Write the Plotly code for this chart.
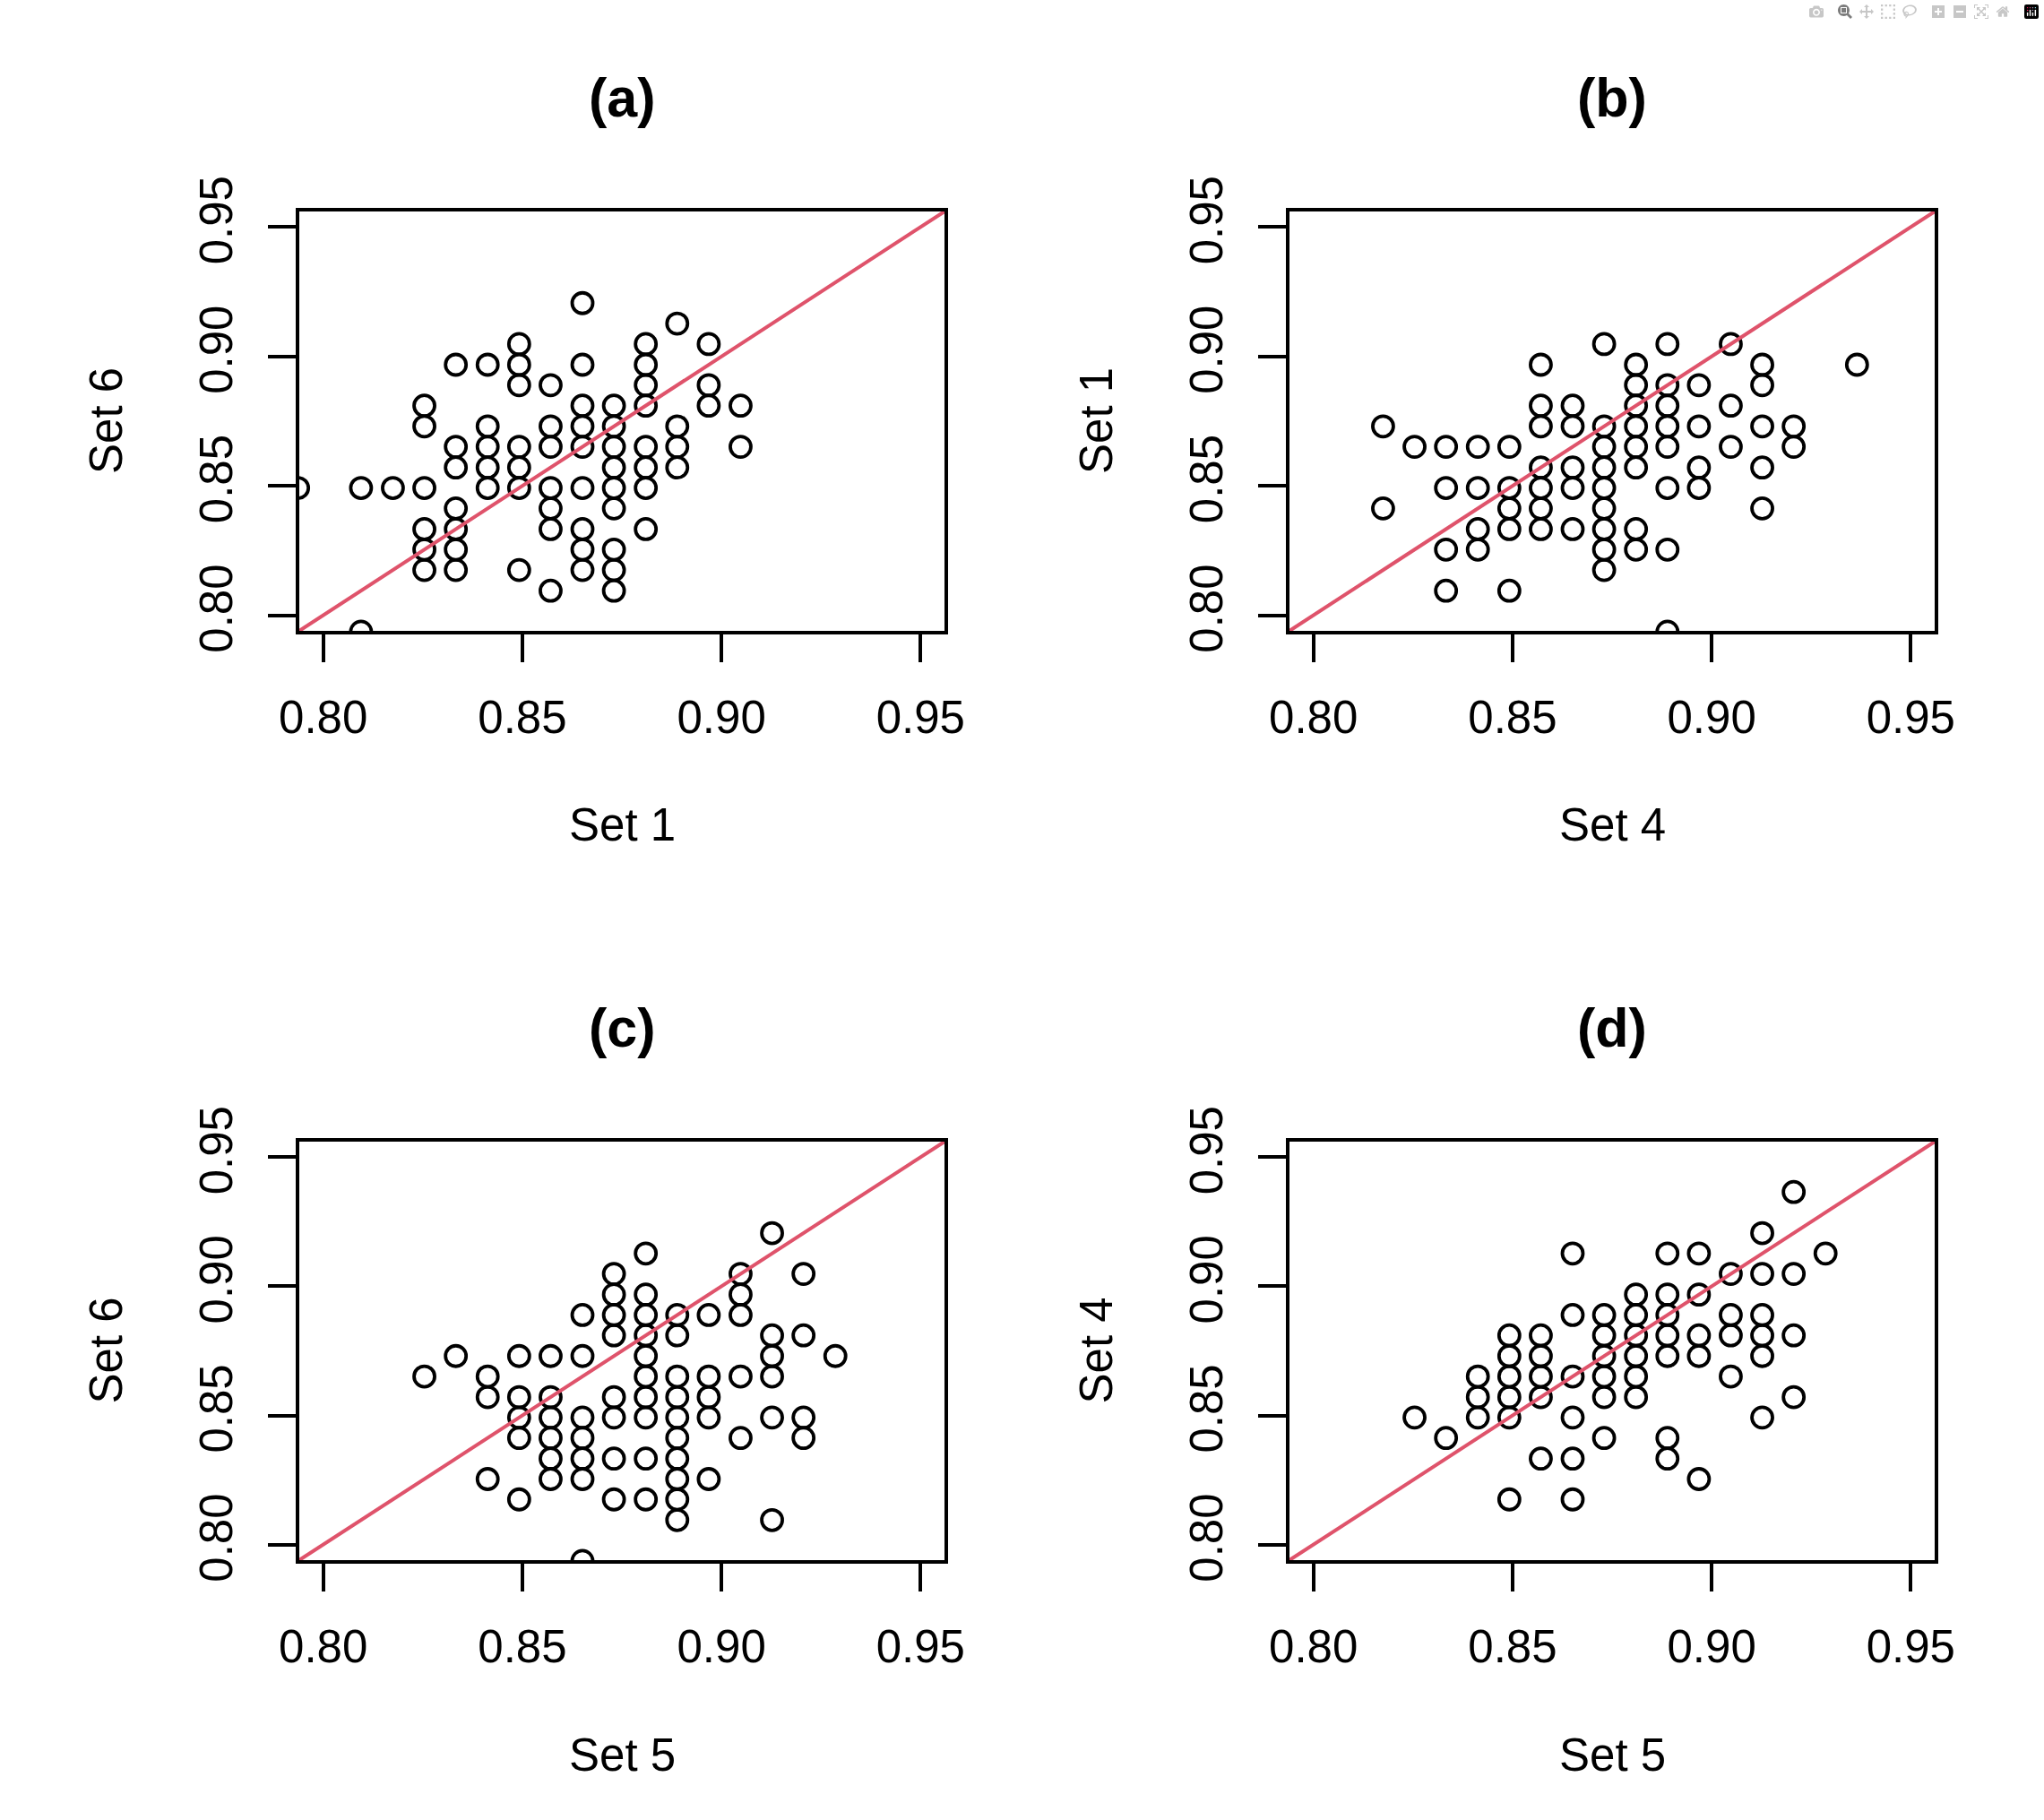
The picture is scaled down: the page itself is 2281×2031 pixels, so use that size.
import plotly.graph_objects as go

# ---- data ----
set1_a = [0.7937,
          0.8095, 0.8095,
          0.8175,
          0.8254, 0.8254, 0.8254, 0.8254, 0.8254, 0.8254,
          0.8333, 0.8333, 0.8333, 0.8333, 0.8333, 0.8333, 0.8333,
          0.8413, 0.8413, 0.8413, 0.8413, 0.8413,
          0.8492, 0.8492, 0.8492, 0.8492, 0.8492, 0.8492, 0.8492,
          0.8571, 0.8571, 0.8571, 0.8571, 0.8571, 0.8571, 0.8571,
          0.8651, 0.8651, 0.8651, 0.8651, 0.8651, 0.8651, 0.8651, 0.8651, 0.8651,
          0.8730, 0.8730, 0.8730, 0.8730, 0.8730, 0.8730, 0.8730, 0.8730, 0.8730,
          0.8810, 0.8810, 0.8810, 0.8810, 0.8810, 0.8810, 0.8810, 0.8810,
          0.8889, 0.8889, 0.8889, 0.8889,
          0.8968, 0.8968, 0.8968,
          0.9048, 0.9048]
set6_a = [0.8492,
          0.8492, 0.7937,
          0.8492,
          0.8810, 0.8730, 0.8492, 0.8333, 0.8254, 0.8175,
          0.8968, 0.8651, 0.8571, 0.8413, 0.8333, 0.8254, 0.8175,
          0.8968, 0.8730, 0.8651, 0.8571, 0.8492,
          0.9048, 0.8968, 0.8889, 0.8651, 0.8571, 0.8492, 0.8175,
          0.8889, 0.8730, 0.8651, 0.8492, 0.8413, 0.8333, 0.8095,
          0.9206, 0.8968, 0.8810, 0.8730, 0.8651, 0.8492, 0.8333, 0.8254, 0.8175,
          0.8810, 0.8730, 0.8651, 0.8571, 0.8492, 0.8413, 0.8254, 0.8175, 0.8095,
          0.9048, 0.8968, 0.8889, 0.8810, 0.8651, 0.8571, 0.8492, 0.8333,
          0.9127, 0.8730, 0.8651, 0.8571,
          0.9048, 0.8889, 0.8810,
          0.8810, 0.8651]

set4_b = [0.8175, 0.8175,
          0.8254,
          0.8333, 0.8333, 0.8333, 0.8333,
          0.8413, 0.8413, 0.8413, 0.8413,
          0.8492, 0.8492, 0.8492, 0.8492, 0.8492,
          0.8571, 0.8571, 0.8571, 0.8571, 0.8571, 0.8571, 0.8571,
          0.8651, 0.8651, 0.8651, 0.8651, 0.8651,
          0.8730, 0.8730, 0.8730, 0.8730, 0.8730, 0.8730, 0.8730, 0.8730, 0.8730,
          0.8810, 0.8810, 0.8810, 0.8810, 0.8810, 0.8810, 0.8810, 0.8810,
          0.8889, 0.8889, 0.8889, 0.8889, 0.8889, 0.8889, 0.8889, 0.8889,
          0.8968, 0.8968, 0.8968, 0.8968,
          0.9048, 0.9048, 0.9048,
          0.9127, 0.9127, 0.9127, 0.9127, 0.9127,
          0.9206, 0.9206,
          0.9365]
set1_b = [0.8730, 0.8413,
          0.8651,
          0.8651, 0.8492, 0.8254, 0.8095,
          0.8651, 0.8492, 0.8333, 0.8254,
          0.8651, 0.8492, 0.8413, 0.8333, 0.8095,
          0.8968, 0.8810, 0.8730, 0.8571, 0.8492, 0.8413, 0.8333,
          0.8810, 0.8730, 0.8571, 0.8492, 0.8333,
          0.9048, 0.8730, 0.8651, 0.8571, 0.8492, 0.8413, 0.8333, 0.8254, 0.8175,
          0.8968, 0.8889, 0.8810, 0.8730, 0.8651, 0.8571, 0.8333, 0.8254,
          0.9048, 0.8889, 0.8810, 0.8730, 0.8651, 0.8492, 0.8254, 0.7937,
          0.8889, 0.8730, 0.8571, 0.8492,
          0.9048, 0.8810, 0.8651,
          0.8968, 0.8889, 0.8730, 0.8571, 0.8413,
          0.8730, 0.8651,
          0.8968]

set5_c = [0.8254,
          0.8333,
          0.8413, 0.8413, 0.8413,
          0.8492, 0.8492, 0.8492, 0.8492, 0.8492,
          0.8571, 0.8571, 0.8571, 0.8571, 0.8571, 0.8571,
          0.8651, 0.8651, 0.8651, 0.8651, 0.8651, 0.8651, 0.8651,
          0.8730, 0.8730, 0.8730, 0.8730, 0.8730, 0.8730, 0.8730, 0.8730,
          0.8810, 0.8810, 0.8810, 0.8810, 0.8810, 0.8810, 0.8810, 0.8810, 0.8810, 0.8810,
          0.8889, 0.8889, 0.8889, 0.8889, 0.8889, 0.8889, 0.8889, 0.8889, 0.8889, 0.8889,
          0.8968, 0.8968, 0.8968, 0.8968, 0.8968,
          0.9048, 0.9048, 0.9048, 0.9048, 0.9048,
          0.9127, 0.9127, 0.9127, 0.9127, 0.9127, 0.9127,
          0.9206, 0.9206, 0.9206, 0.9206,
          0.9286]
set6_c = [0.8651,
          0.8730,
          0.8651, 0.8571, 0.8254,
          0.8730, 0.8571, 0.8492, 0.8413, 0.8175,
          0.8730, 0.8571, 0.8492, 0.8413, 0.8333, 0.8254,
          0.8889, 0.8730, 0.8492, 0.8413, 0.8333, 0.8254, 0.7937,
          0.9048, 0.8968, 0.8889, 0.8810, 0.8571, 0.8492, 0.8333, 0.8175,
          0.9127, 0.8968, 0.8889, 0.8810, 0.8730, 0.8651, 0.8571, 0.8492, 0.8333, 0.8175,
          0.8889, 0.8810, 0.8651, 0.8571, 0.8492, 0.8413, 0.8333, 0.8254, 0.8175, 0.8095,
          0.8889, 0.8651, 0.8571, 0.8492, 0.8254,
          0.9048, 0.8968, 0.8889, 0.8651, 0.8413,
          0.9206, 0.8810, 0.8730, 0.8651, 0.8492, 0.8095,
          0.9048, 0.8810, 0.8492, 0.8413,
          0.8730]

set5_d = [0.8254,
          0.8333,
          0.8413, 0.8413, 0.8413,
          0.8492, 0.8492, 0.8492, 0.8492, 0.8492, 0.8492,
          0.8571, 0.8571, 0.8571, 0.8571, 0.8571,
          0.8651, 0.8651, 0.8651, 0.8651, 0.8651, 0.8651,
          0.8730, 0.8730, 0.8730, 0.8730, 0.8730, 0.8730,
          0.8810, 0.8810, 0.8810, 0.8810, 0.8810, 0.8810,
          0.8889, 0.8889, 0.8889, 0.8889, 0.8889, 0.8889, 0.8889,
          0.8968, 0.8968, 0.8968, 0.8968, 0.8968,
          0.9048, 0.9048, 0.9048, 0.9048,
          0.9127, 0.9127, 0.9127, 0.9127, 0.9127, 0.9127,
          0.9206, 0.9206, 0.9206, 0.9206,
          0.9286]
set4_d = [0.8492,
          0.8413,
          0.8651, 0.8571, 0.8492,
          0.8810, 0.8730, 0.8651, 0.8571, 0.8492, 0.8175,
          0.8810, 0.8730, 0.8651, 0.8571, 0.8333,
          0.9127, 0.8889, 0.8651, 0.8492, 0.8333, 0.8175,
          0.8889, 0.8810, 0.8730, 0.8651, 0.8571, 0.8413,
          0.8968, 0.8889, 0.8810, 0.8730, 0.8651, 0.8571,
          0.9127, 0.8968, 0.8889, 0.8810, 0.8730, 0.8413, 0.8333,
          0.9127, 0.8968, 0.8810, 0.8730, 0.8254,
          0.9048, 0.8889, 0.8810, 0.8651,
          0.9206, 0.9048, 0.8889, 0.8810, 0.8730, 0.8492,
          0.9365, 0.9048, 0.8810, 0.8571,
          0.9127]

panel_titles = ["(a)", "(b)", "(c)", "(d)"]
x_titles = ["Set 1", "Set 4", "Set 5", "Set 5"]
y_titles = ["Set 6", "Set 1", "Set 6", "Set 4"]
tick_vals = [0.80, 0.85, 0.90, 0.95]
tick_text = ["0.80", "0.85", "0.90", "0.95"]
axis_lim = [0.794, 0.956]

panels = [(set1_a, set6_a), (set4_b, set1_b), (set5_c, set6_c), (set5_d, set4_d)]

# ---- layout in pixels ----
W, H = 2281, 2031
LW = 4
cols_px = [(332, 1056), (1437, 2161)]
rows_px = [(234, 706), (1272, 1743)]
FONT = "Liberation Sans, Arial, Helvetica, sans-serif"
RED = "#DF536B"


def fx(px):
    return px / W


def fy(px):
    return 1 - px / H


fig = go.Figure()
annotations = []
layout_axes = {}

for i, (xs, ys) in enumerate(panels):
    r, c = divmod(i, 2)
    x0, x1 = cols_px[c]
    y0, y1 = rows_px[r]
    n = "" if i == 0 else str(i + 1)
    fig.add_trace(go.Scatter(
        x=xs, y=ys, mode="markers", xaxis="x" + n, yaxis="y" + n,
        marker=dict(symbol="circle-open", size=23, color="black", line=dict(width=3.8)),
        showlegend=False, hoverinfo="skip"))
    # y = x reference line
    fig.add_trace(go.Scatter(
        x=axis_lim, y=axis_lim, mode="lines", xaxis="x" + n, yaxis="y" + n,
        line=dict(color=RED, width=4), showlegend=False, hoverinfo="skip"))

    common = dict(range=axis_lim, tickvals=tick_vals, ticktext=tick_text,
                  showgrid=False, zeroline=False, showline=True, mirror=True,
                  linecolor="black", linewidth=LW, ticks="outside", ticklen=31,
                  tickwidth=LW, tickcolor="black", automargin=False,
                  tickfont=dict(family=FONT, size=51, color="black"))
    layout_axes["xaxis" + n] = dict(common, domain=[fx(x0 + LW / 2), fx(x1 - LW / 2)],
                                    anchor="y" + n, ticklabelstandoff=18)
    layout_axes["yaxis" + n] = dict(common, domain=[fy(y1 - LW / 2), fy(y0 + LW / 2)],
                                    anchor="x" + n, tickangle=-90, ticklabelstandoff=20)

    xc = (x0 + x1) / 2
    yc = (y0 + y1) / 2
    annotations.append(dict(text="<b>%s</b>" % panel_titles[i], x=fx(xc), y=fy(y0 - 125),
                            xref="paper", yref="paper", showarrow=False,
                            xanchor="center", yanchor="middle",
                            font=dict(family=FONT, size=61, color="black")))
    annotations.append(dict(text=x_titles[i], x=fx(xc), y=fy(y1 + 215),
                            xref="paper", yref="paper", showarrow=False,
                            xanchor="center", yanchor="middle",
                            font=dict(family=FONT, size=51, color="black")))
    annotations.append(dict(text=y_titles[i], x=fx(x0 - 214), y=fy(yc),
                            xref="paper", yref="paper", showarrow=False, textangle=-90,
                            xanchor="center", yanchor="middle",
                            font=dict(family=FONT, size=51, color="black")))

fig.update_layout(
    width=W, height=H,
    margin=dict(l=0, r=0, t=0, b=0, autoexpand=False),
    paper_bgcolor="white", plot_bgcolor="white",
    annotations=annotations,
    **layout_axes)

fig.write_html("out.html", post_script="document.body.style.margin='0';")
